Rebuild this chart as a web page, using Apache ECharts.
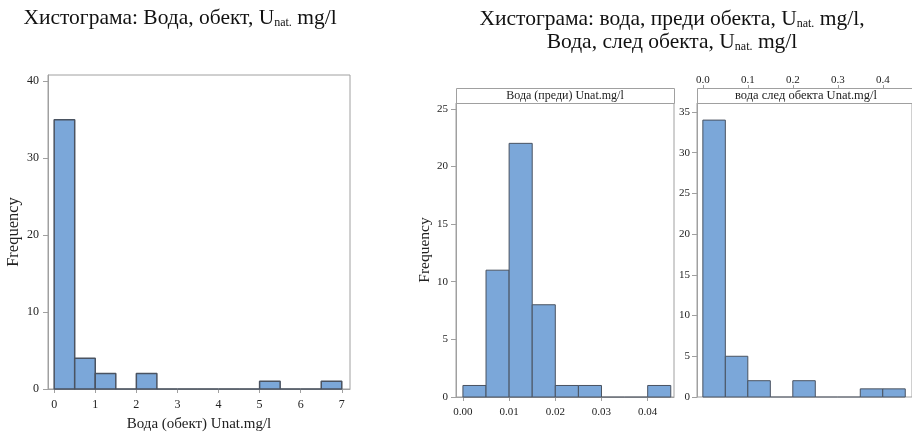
<!DOCTYPE html>
<html><head><meta charset="utf-8">
<script src="https://cdn.jsdelivr.net/npm/echarts@6/dist/echarts.min.js"></script>
<style>html,body{margin:0;padding:0;background:#fff}#c{width:912px;height:432px}</style>
</head><body><div id="c"></div>
<script>
// Histogram 1: Вода, обект
const objEdges = [0, 0.5, 1.0, 1.5, 2.0, 2.5, 3.0, 3.5, 4.0, 4.5, 5.0, 5.5, 6.0, 6.5, 7.0];
const objCounts = [35, 4, 2, 0, 2, 0, 0, 0, 0, 0, 1, 0, 0, 1];
const objXTicks = [0, 1, 2, 3, 4, 5, 6, 7];
const objYTicks = [0, 10, 20, 30, 40];
// Histogram 2: Вода (преди)
const beforeEdges = [0, 0.005, 0.010, 0.015, 0.020, 0.025, 0.030, 0.035, 0.040, 0.045];
const beforeCounts = [1, 11, 22, 8, 1, 1, 0, 0, 1];
const beforeXTicks = [0, 0.01, 0.02, 0.03, 0.04];
const beforeYTicks = [0, 5, 10, 15, 20, 25];
// Histogram 3: вода след обекта
const afterEdges = [0, 0.05, 0.10, 0.15, 0.20, 0.25, 0.30, 0.35, 0.40, 0.45];
const afterCounts = [34, 5, 2, 0, 2, 0, 0, 1, 1];
const afterXTicks = [0, 0.1, 0.2, 0.3, 0.4];
const afterYTicks = [0, 5, 10, 15, 20, 25, 30, 35];

const FONT = '"Liberation Serif", "DejaVu Serif", serif';
const txt = '#222';
const gray = '#a0a0a0';
const barStroke = '#4a5361';

function hist(idx, edges, counts, lw) {
  return {
    type: 'custom', xAxisIndex: idx, yAxisIndex: idx,
    data: counts.map((c, i) => [edges[i], edges[i + 1], c]),
    encode: { x: [0, 1], y: 2 },
    renderItem: function (params, api) {
      const p0 = api.coord([api.value(0), api.value(2)]);
      const p1 = api.coord([api.value(1), 0]);
      if (api.value(2) === 0) {
        return { type: 'line', shape: { x1: p0[0], y1: p1[1], x2: p1[0], y2: p1[1] },
          style: { stroke: barStroke, lineWidth: lw } };
      }
      return { type: 'rect', shape: { x: p0[0], y: p0[1], width: p1[0] - p0[0], height: p1[1] - p0[1] },
        style: { fill: '#7ba7d9', stroke: barStroke, lineWidth: lw, lineJoin: 'bevel' } };
    }
  };
}
function xAx(idx, min, max, ticks, fmt, fs, margin, extra) {
  return Object.assign({
    type: 'value', gridIndex: idx, min: min, max: max,
    axisLine: { show: true, onZero: false, lineStyle: { color: gray } },
    axisTick: { show: true, length: 4, lineStyle: { color: gray }, customValues: ticks },
    axisLabel: { color: txt, fontFamily: FONT, fontSize: fs, margin: margin, customValues: ticks, formatter: fmt },
    splitLine: { show: false }
  }, extra || {});
}
function yAx(idx, max, ticks, fs, margin, name, nameGap, nfs) {
  return {
    type: 'value', gridIndex: idx, min: 0, max: max,
    name: name, nameLocation: 'middle', nameGap: nameGap,
    nameTextStyle: { color: txt, fontFamily: FONT, fontSize: nfs },
    axisLine: { show: true, onZero: false, lineStyle: { color: gray } },
    axisTick: { show: true, length: 5, lineStyle: { color: gray }, customValues: ticks },
    axisLabel: { color: txt, fontFamily: FONT, fontSize: fs, margin: margin, customValues: ticks },
    splitLine: { show: false }
  };
}

const chart = echarts.init(document.getElementById('c'));
const rich = { sub: { fontFamily: FONT, fontSize: 12, verticalAlign: 'bottom', padding: [9, 0, 0, 0], fill: '#111' } };
const TF = '21.5px ' + FONT;
const gb = { outerBoundsMode: 'none', containLabel: false };
chart.setOption({
  animation: false,
  grid: [
    Object.assign({ left: 48, top: 75, width: 302, height: 314, show: true, borderColor: gray, borderWidth: 1 }, gb),
    Object.assign({ left: 456, top: 103, width: 218, height: 294, show: true, borderColor: gray, borderWidth: 1 }, gb),
    Object.assign({ left: 697, top: 103, width: 215, height: 294, show: true, borderColor: gray, borderWidth: 1 }, gb),
    Object.assign({ left: 697, top: 88, width: 215, height: 1, show: false }, gb)
  ],
  xAxis: [
    Object.assign(xAx(0, -0.15, 7.2, objXTicks, v => String(v), 12, 10), {
      name: 'Вода (обект) Unat.mg/l', nameLocation: 'middle', nameGap: 28,
      nameTextStyle: { color: txt, fontFamily: FONT, fontSize: 15 } }),
    xAx(1, -0.0015, 0.0457, beforeXTicks, v => v.toFixed(2), 11, 10),
    xAx(2, -0.013, 0.465, afterXTicks, v => v.toFixed(1), 11, 8,
      { axisLine: { show: false }, axisTick: { show: false }, axisLabel: { show: false } }),
    xAx(3, -0.013, 0.465, afterXTicks, v => v.toFixed(1), 11, 2,
      { position: 'top', axisLine: { show: false } })
  ],
  yAxis: [
    yAx(0, 40.8, objYTicks, 12, 9, 'Frequency', 26, 16.5),
    yAx(1, 25.5, beforeYTicks, 11, 8, 'Frequency', 23, 15.5),
    yAx(2, 36.1, afterYTicks, 11, 7, '', 0, 12),
    { type: 'value', gridIndex: 3, min: 0, max: 1, show: false }
  ],
  series: [
    hist(0, objEdges, objCounts, 1.5),
    hist(1, beforeEdges, beforeCounts, 1),
    hist(2, afterEdges, afterCounts, 1)
  ],
  graphic: [
    { type: 'text', x: 180, y: 18, style: { text: 'Хистограма: Вода, обект, U{sub|nat.} mg/l', rich: rich,
        font: TF, fill: '#111', align: 'center', verticalAlign: 'middle' } },
    { type: 'text', x: 672, y: 19, style: { text: 'Хистограма: вода, преди обекта, U{sub|nat.} mg/l,', rich: rich,
        font: TF, fill: '#111', align: 'center', verticalAlign: 'middle' } },
    { type: 'text', x: 672, y: 42, style: { text: 'Вода, след обекта, U{sub|nat.} mg/l', rich: rich,
        font: TF, fill: '#111', align: 'center', verticalAlign: 'middle' } },
    { type: 'rect', shape: { x: 456.5, y: 88.5, width: 218, height: 15 }, style: { fill: '#fff', stroke: gray, lineWidth: 1 } },
    { type: 'text', x: 565, y: 96, style: { text: 'Вода (преди) Unat.mg/l', font: '12px ' + FONT, fill: txt, align: 'center', verticalAlign: 'middle' } },
    { type: 'rect', shape: { x: 697.5, y: 88.5, width: 215, height: 15 }, style: { fill: '#fff', stroke: gray, lineWidth: 1 } },
    { type: 'text', x: 806, y: 96, style: { text: 'вода след обекта Unat.mg/l', font: '12.5px ' + FONT, fill: txt, align: 'center', verticalAlign: 'middle' } }
  ]
});
</script></body></html>
